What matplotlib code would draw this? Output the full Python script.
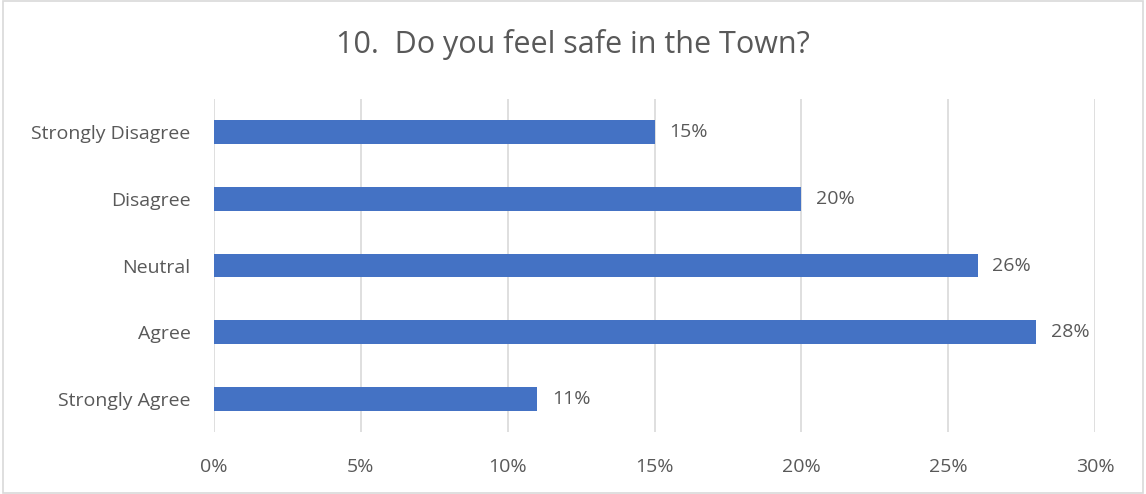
import matplotlib.pyplot as plt
import numpy as np
from matplotlib.patches import Rectangle
from matplotlib.ticker import PercentFormatter

plt.rcParams['font.family'] = ['Open Sans', 'DejaVu Sans']

categorias = ['Strongly Disagree', 'Disagree', 'Neutral', 'Agree', 'Strongly Agree']
porcentajes = [15, 20, 26, 28, 11]
ticks_x = [0, 5, 10, 15, 20, 25, 30]

gris = '#595959'
azul = '#4472C4'

fig = plt.figure(figsize=(11.46, 4.94), dpi=100)
ax = fig.add_axes([214/1146, 1-432/494, (1095-214)/1146, (432-99)/494])

y = np.arange(len(categorias))
barras = ax.barh(y, porcentajes, height=0.36, color=azul, zorder=3)
for b, v in zip(barras, porcentajes):
    ax.text(b.get_width() + 0.5, b.get_y() + b.get_height()/2, f'{v}%',
            va='center', ha='left', fontsize=14, color=gris)

ax.set_ylim(len(categorias) - 0.5, -0.5)
ax.set_yticks(y)
ax.set_yticklabels(categorias, fontsize=14, color=gris)
ax.set_xlim(0, 30)
ax.set_xticks(ticks_x)
ax.xaxis.set_major_formatter(PercentFormatter(decimals=0))
ax.tick_params(axis='x', labelsize=14, colors=gris, length=0, pad=19)
ax.tick_params(axis='y', length=0, pad=17)
ax.grid(axis='x', color='#D9D9D9', linewidth=1.2, zorder=0)
for s in ax.spines.values():
    s.set_visible(False)

fig.text(0.5, 1-45/494, '10.  Do you feel safe in the Town?', ha='center', va='center',
         fontsize=22, color=gris)

# marco gris alrededor de la figura
fig.patches.append(Rectangle((0.003, 0.002), 0.994, 0.996, transform=fig.transFigure,
                             fill=False, edgecolor='#D9D9D9', linewidth=1.2))

fig.savefig('out.png', dpi=100)
